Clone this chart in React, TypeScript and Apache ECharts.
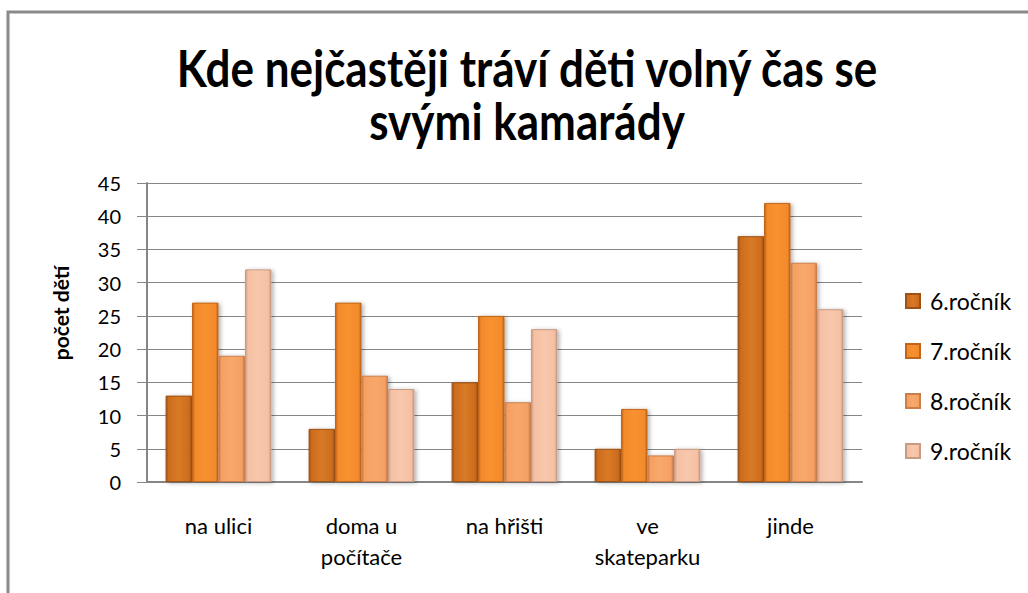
import React, { useEffect, useRef } from "react";
import * as echarts from "echarts";

const categories = ["na ulici", "doma u\npočítače", "na hřišti", "ve\nskateparku", "jinde"];
const seriesNames = ["6.ročník", "7.ročník", "8.ročník", "9.ročník"];
const grade6 = [13, 8, 15, 5, 37];
const grade7 = [27, 27, 25, 11, 42];
const grade8 = [19, 16, 12, 4, 33];
const grade9 = [32, 14, 23, 5, 26];
const yTicks = [0, 5, 10, 15, 20, 25, 30, 35, 40, 45];
const titleLines = ["Kde nejčastěji tráví děti volný čas se", "svými kamarády"];
const yAxisTitle = "počet dětí";

const palettes = [
  { edge: "#9e5214", base: "#cd6c1d", light: "#d87a26" },
  { edge: "#c0661a", base: "#f38a2c", light: "#f7922f" },
  { edge: "#c97f4c", base: "#f6a062", light: "#f8a86c" },
  { edge: "#c99a84", base: "#f5c0a3", light: "#f8c8ac" },
];

const FONT = "Lato, 'Open Sans', sans-serif";

function grad(p: { edge: string; base: string; light: string }) {
  return new echarts.graphic.LinearGradient(0, 0, 1, 0, [
    { offset: 0, color: p.edge },
    { offset: 0.1, color: p.base },
    { offset: 0.5, color: p.light },
    { offset: 0.9, color: p.base },
    { offset: 1, color: p.edge },
  ]);
}

export default function App() {
  const ref = useRef<HTMLDivElement>(null);
  useEffect(() => {
    if (!ref.current) return;
    const chart = echarts.init(ref.current, undefined, { renderer: "svg" });
    const data = [grade6, grade7, grade8, grade9];
    chart.setOption({
      animation: false,
      backgroundColor: "#ffffff",
      graphic: [
        {
          type: "polyline",
          shape: { points: [[8, 593], [8, 12], [1028, 12]] },
          style: { stroke: "#8a8a8a", lineWidth: 3, fill: "none" },
          silent: true,
        },
        ...titleLines.map((t, i) => ({
          type: "text",
          x: 527,
          y: 67 + i * 53,
          scaleY: 1.18,
          style: {
            text: t,
            fontFamily: FONT,
            fontWeight: "bold",
            fontSize: 44,
            fill: "#000",
            textAlign: "center",
            textVerticalAlign: "middle",
          },
          silent: true,
        })),
        {
          type: "text",
          x: 60,
          y: 313,
          rotation: Math.PI / 2,
          style: {
            text: yAxisTitle,
            fontFamily: FONT,
            fontWeight: "bold",
            fontSize: 21,
            fill: "#000",
            textAlign: "center",
            textVerticalAlign: "middle",
          },
          silent: true,
        },
      ],
      legend: {
        orient: "vertical",
        left: 905,
        top: 289,
        padding: 0,
        itemWidth: 14,
        itemHeight: 14,
        itemGap: 26,
        icon: "rect",
        textStyle: { fontFamily: FONT, fontSize: 23, color: "#000", lineHeight: 24, padding: [0, 0, 0, 5] },
        data: seriesNames,
      },
      grid: { left: 147, right: 166, top: 183, bottom: 111 },
      xAxis: {
        type: "category",
        data: categories,
        axisLine: { lineStyle: { color: "#868686", width: 2 } },
        axisTick: { show: false },
        axisLabel: {
          fontFamily: FONT,
          fontSize: 22,
          color: "#000",
          margin: 28,
          lineHeight: 31,
          interval: 0,
        },
      },
      yAxis: {
        type: "value",
        min: yTicks[0],
        max: yTicks[yTicks.length - 1],
        interval: 5,
        axisLine: { show: true, lineStyle: { color: "#868686", width: 2 } },
        axisTick: { show: true, length: 10, lineStyle: { color: "#868686", width: 1 } },
        splitLine: { lineStyle: { color: "#868686", width: 1 } },
        axisLabel: { fontFamily: FONT, fontSize: 20, color: "#000", margin: 26 },
      },
      series: seriesNames.map((name, i) => ({
        name,
        type: "bar",
        data: data[i],
        barGap: "0%",
        barCategoryGap: "26%",
        itemStyle: {
          color: grad(palettes[i]),
          borderColor: palettes[i].edge,
          borderWidth: 1,
          shadowBlur: 4,
          shadowColor: "rgba(0,0,0,0.3)",
          shadowOffsetX: 2,
          shadowOffsetY: 1,
        },
      })),
    });
    return () => chart.dispose();
  }, []);
  return (
    <div
      ref={ref}
      style={{ position: "fixed", left: 0, top: 0, width: 1028, height: 593 }}
    />
  );
}
